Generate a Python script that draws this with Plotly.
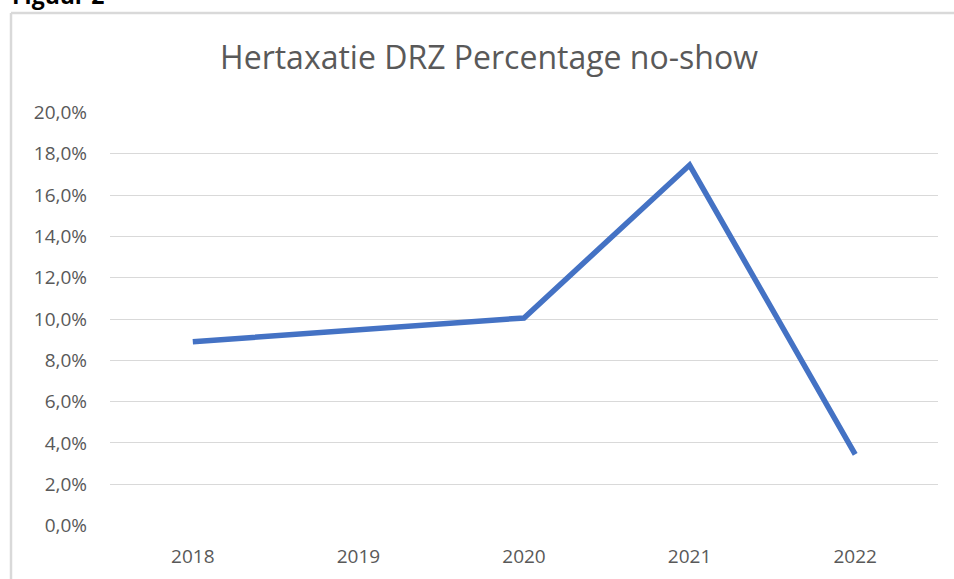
import plotly.graph_objects as go

years = ["2018", "2019", "2020", "2021", "2022"]
no_show_pct = [8.9, 9.5, 10.05, 17.45, 3.45]
y_ticks = [0, 2, 4, 6, 8, 10, 12, 14, 16, 18, 20]

W, H = 954, 579
L, R, T, B = 110, 16, 112, 53
pw = W - L - R
ph = H - T - B

def px_x(px):
    return (px - L) / pw

def px_y(py):
    return (H - B - py) / ph

fig = go.Figure()
fig.add_trace(go.Scatter(
    x=years, y=no_show_pct, mode="lines",
    line=dict(color="#4472C4", width=5.5),
    hoverinfo="skip", showlegend=False,
))

fig.update_layout(
    width=W, height=H,
    margin=dict(l=L, r=R, t=T, b=B, autoexpand=False),
    paper_bgcolor="white", plot_bgcolor="white",
    separators=",.",
    font=dict(family="Open Sans", color="#595959", size=19),
    title=dict(
        text="Hertaxatie DRZ Percentage no-show",
        x=px_x(489), xref="paper", xanchor="center",
        y=1 - 58 / H, yref="container", yanchor="middle",
        font=dict(family="Open Sans", size=32, color="#595959"),
    ),
    xaxis=dict(
        type="category", showgrid=False, showline=False, zeroline=False,
        ticks="", tickfont=dict(size=19, color="#595959"),
        range=[-0.5, 4.5], ticklabelstandoff=17, automargin=False,
    ),
    yaxis=dict(
        range=[-0.02, 20.02], tickvals=y_ticks,
        ticktext=[f"{v:.1f}".replace(".", ",") + "%" for v in y_ticks],
        showgrid=True, gridcolor="#d9d9d9", gridwidth=1.3,
        zeroline=False, showline=False, ticks="",
        tickfont=dict(size=19, color="#595959"),
        ticklabelstandoff=22, automargin=False,
    ),
    shapes=[
        dict(type="line", xref="paper", yref="paper",
             x0=px_x(11), x1=px_x(11), y0=px_y(13), y1=px_y(600),
             line=dict(color="#d9d9d9", width=2.5)),
        dict(type="line", xref="paper", yref="paper",
             x0=px_x(11), x1=px_x(970), y0=px_y(13), y1=px_y(13),
             line=dict(color="#d9d9d9", width=2.5)),
    ],
    annotations=[
        dict(text="<b>Figuur 2</b>", xref="paper", yref="paper",
             x=px_x(10), y=px_y(12.5), xanchor="left", yanchor="bottom",
             showarrow=False,
             font=dict(family="Open Sans", size=23, color="#000000")),
    ],
)

fig.write_html("out.html", config={"displayModeBar": False},
               post_script="document.body.style.margin='0';")
